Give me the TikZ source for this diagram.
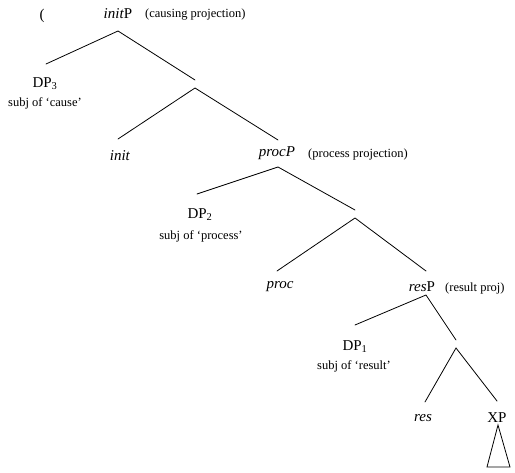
\documentclass[tikz,border=0pt]{standalone}
\usepackage{fontspec}
\setmainfont{Liberation Serif}
\begin{document}
\begin{tikzpicture}[x=1pt,y=-1pt,
  lab/.style={inner sep=0pt,font=\fontsize{15}{18}\selectfont},
  ann/.style={inner sep=0pt,font=\fontsize{12.5}{15}\selectfont},
  branch/.style={line width=0.8pt,line cap=round}]
\useasboundingbox (0,0) rectangle (515,473);
% labels
\node[lab] (paren) at (42,16) {(};
\node[lab] (initP) at (118,14) {\textit{init}P};
\node[ann,anchor=west] (causing) at (145,15) {(causing projection)};
\node[lab] (DP3) at (45,84) {DP\textsubscript{3}};
\node[ann] (subj3) at (45,103) {subj of ‘cause’};
\node[lab] (init) at (120,156) {\textit{init}};
\node[lab] (procP) at (277,153) {\textit{procP}};
\node[ann,anchor=west] (process) at (308,154) {(process projection)};
\node[lab] (DP2) at (200,215) {DP\textsubscript{2}};
\node[ann] (subj2) at (201,236) {subj of ‘process’};
\node[lab] (proc) at (280,287) {\textit{proc}};
\node[lab] (resP) at (422,287) {\textit{res}P};
\node[ann,anchor=west] (result) at (445,288) {(result proj)};
\node[lab] (DP1) at (355,347) {DP\textsubscript{1}};
\node[ann] (subj1) at (354,366) {subj of ‘result’};
\node[lab] (res) at (423,418) {\textit{res}};
\node[lab] (XP) at (497,418) {XP};
% branch points
\coordinate (r0) at (118,31);
\coordinate (d3) at (46,64);
\coordinate (i1a) at (195,80);
\coordinate (i1) at (195,88);
\coordinate (ini) at (118,139);
\coordinate (pp) at (278,140);
\coordinate (p0) at (278,167);
\coordinate (d2) at (197,194);
\coordinate (i2a) at (355,210);
\coordinate (i2) at (355,218);
\coordinate (pr) at (277,271);
\coordinate (rp) at (426,271);
\coordinate (q0) at (426,295);
\coordinate (d1) at (355,325);
\coordinate (i3a) at (456,340);
\coordinate (i3) at (456,348);
\coordinate (rs) at (425,402);
\coordinate (xp) at (497,401);
\coordinate (t0) at (498,425);
\coordinate (t1) at (487,467);
\coordinate (t2) at (510,467);
% connectors
\draw[branch] (d3) -- (r0) -- (i1a);
\draw[branch] (ini) -- (i1) -- (pp);
\draw[branch] (d2) -- (p0) -- (i2a);
\draw[branch] (pr) -- (i2) -- (rp);
\draw[branch] (d1) -- (q0) -- (i3a);
\draw[branch] (rs) -- (i3) -- (xp);
\draw[branch,line join=miter] (t0) -- (t1) -- (t2) -- cycle;
\end{tikzpicture}
\end{document}
